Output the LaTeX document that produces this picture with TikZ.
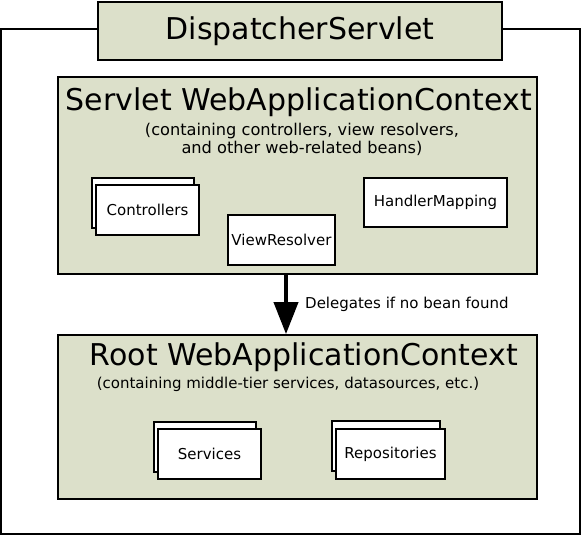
\documentclass[tikz,border=0pt]{standalone}
\usepackage{fontspec}
\setmainfont{DejaVu Sans}
\usetikzlibrary{arrows.meta,positioning}
\definecolor{ctxgreen}{HTML}{DCE0CA}

\begin{document}
\begin{tikzpicture}[
    x=1pt, y=-1pt,
    frame/.style={draw, line width=1.8pt},
    ctxbox/.style={frame, fill=ctxgreen, minimum width=479pt, inner sep=0pt},
    beanbox/.style={draw, fill=white, line width=1.2pt, inner sep=0pt,
                    font=\fontsize{15}{17}\selectfont},
    bigtitle/.style={font=\fontsize{30}{34}\selectfont, inner sep=0pt},
    subtitle/.style={font=\fontsize{15}{18}\selectfont, align=center, inner sep=0pt},
    arrow/.style={-{Triangle[length=32pt,width=24pt]}, line width=4pt}
]
\useasboundingbox (0,0) rectangle (582,536);

% outer frame and servlet label
\draw[frame] (1,29) rectangle (580,534);
\node[ctxbox, minimum width=404pt, minimum height=58pt] (ds) at (300,31) {};
\node[bigtitle] (dstitle) at (ds.center) {DispatcherServlet};

% servlet context
\node[ctxbox, minimum height=197pt] (servlet) at (297.5,175.5) {};
\node[bigtitle] (stitle) at (299,102) {Servlet WebApplicationContext};
\node[subtitle, font=\fontsize{16.2}{18}\selectfont] (ssub) at (302,139) {(containing controllers, view resolvers,\\and other web-related beans)};

\node[beanbox, minimum width=102pt, minimum height=50pt] (ctrlback) at (143,203) {};
\node[beanbox, minimum width=103pt, minimum height=50pt] (ctrl) at (147.5,210) {Controllers};
\node[beanbox, minimum width=107pt, minimum height=50pt] (view) at (281.5,240) {ViewResolver};
\node[beanbox, minimum width=143pt, minimum height=49pt] (handler) at (435.5,202.5) {HandlerMapping};

% root context
\node[ctxbox, minimum height=164pt] (root) at (297.5,417) {};
\node[bigtitle] (rtitle) at (304,357) {Root WebApplicationContext};
\node[subtitle] (rsub) at (288,384) {(containing middle-tier services, datasources, etc.)};

\node[beanbox, minimum width=102pt, minimum height=50pt] (svcback) at (205,447) {};
\node[beanbox, minimum width=103pt, minimum height=50pt] (svc) at (209.5,454) {Services};
\node[beanbox, minimum width=108pt, minimum height=50pt] (repoback) at (386,446) {};
\node[beanbox, minimum width=109pt, minimum height=50pt] (repo) at (390.5,454) {Repositories};

% delegation
\draw[arrow] ([xshift=-11.5pt]servlet.south) -- ([xshift=-11.5pt]root.north);
\node[subtitle, anchor=west] (deleg) at (305,304) {Delegates if no bean found};
\end{tikzpicture}
\end{document}
